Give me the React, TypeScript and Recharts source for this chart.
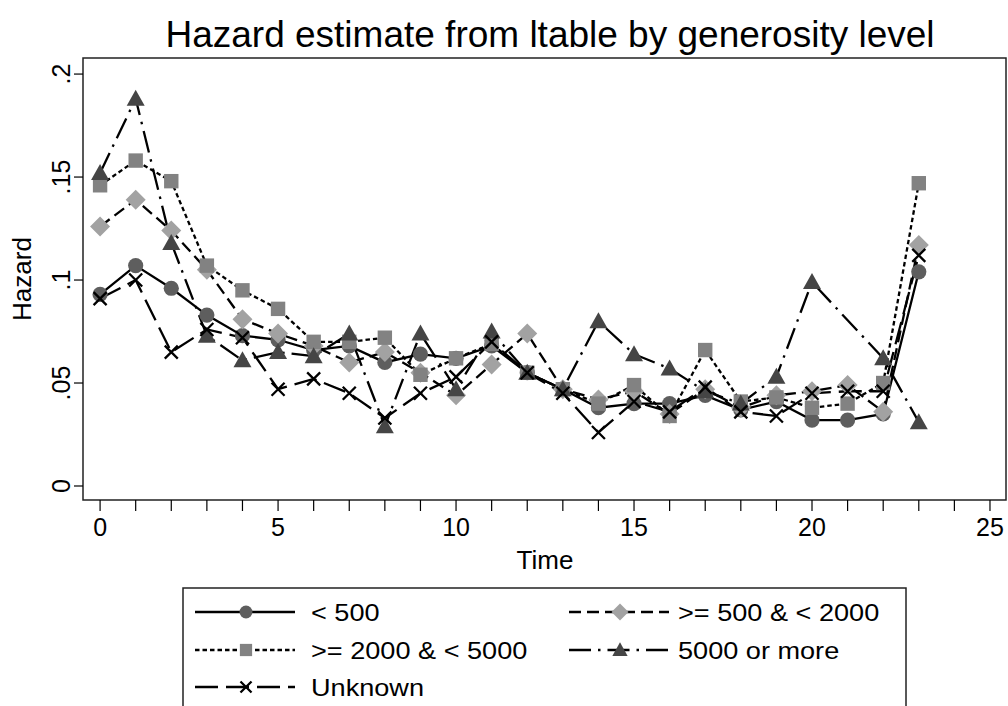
import React from 'react';
import { LineChart, Line, XAxis, YAxis, ReferenceArea } from 'recharts';

const times = [0, 1, 2, 3, 4, 5, 6, 7, 8, 9, 10, 11, 12, 13, 14, 15, 16, 17, 18, 19, 20, 21, 22, 23];
const lt500 = [0.093, 0.107, 0.096, 0.083, 0.073, 0.071, 0.066, 0.068, 0.060, 0.064, 0.062, 0.068, 0.055, 0.047, 0.038, 0.040, 0.040, 0.044, 0.037, 0.041, 0.032, 0.032, 0.035, 0.104];
const from500to2000 = [0.126, 0.139, 0.124, 0.105, 0.081, 0.074, 0.068, 0.060, 0.065, 0.055, 0.044, 0.059, 0.074, 0.047, 0.042, 0.046, 0.035, 0.047, 0.038, 0.044, 0.046, 0.049, 0.036, 0.117];
const from2000to5000 = [0.146, 0.158, 0.148, 0.107, 0.095, 0.086, 0.070, 0.070, 0.072, 0.054, 0.062, 0.069, 0.055, 0.047, 0.040, 0.049, 0.034, 0.066, 0.041, 0.043, 0.038, 0.040, 0.050, 0.147];
const over5000 = [0.152, 0.188, 0.118, 0.073, 0.061, 0.065, 0.063, 0.074, 0.029, 0.074, 0.047, 0.075, 0.055, 0.047, 0.080, 0.064, 0.057, 0.046, 0.040, 0.053, 0.099, null, 0.062, 0.031];
const unknown = [0.091, 0.100, 0.065, 0.076, 0.072, 0.047, 0.052, 0.045, 0.033, 0.045, 0.053, 0.070, 0.055, 0.045, 0.026, 0.041, 0.036, 0.048, 0.036, 0.034, 0.045, 0.046, 0.046, 0.112];

const xTicks = [0, 1, 2, 3, 4, 5, 6, 7, 8, 9, 10, 11, 12, 13, 14, 15, 16, 17, 18, 19, 20, 21, 22, 23, 24, 25];
const xLabeled = [0, 5, 10, 15, 20, 25];
const yTicks = [0, 0.05, 0.1, 0.15, 0.2];
const yTickLabels = ['0', '.05', '.1', '.15', '.2'];
const seriesNames = ['< 500', '>= 500 & < 2000', '>= 2000 & < 5000', '5000 or more', 'Unknown'];

const FONT = '"Liberation Sans", Arial, Helvetica, sans-serif';

type Shape = 'circle' | 'diamond' | 'square' | 'triangle' | 'x';

const seriesStyle: { key: string; shape: Shape; fill: string; dash?: string }[] = [
  { key: 'a', shape: 'circle', fill: '#5e5e5e' },
  { key: 'b', shape: 'diamond', fill: '#a2a2a2', dash: '12 6' },
  { key: 'c', shape: 'square', fill: '#828282', dash: '4.5 3' },
  { key: 'd', shape: 'triangle', fill: '#454545', dash: '22 7 2.5 7' },
  { key: 'e', shape: 'x', fill: '#000000', dash: '23 8' },
];

const data = times.map((t, i) => ({
  t,
  a: lt500[i],
  b: from500to2000[i],
  c: from2000to5000[i],
  d: over5000[i],
  e: unknown[i],
}));

function Marker({ shape, cx, cy, fill, scale = 1 }: { shape: Shape; cx: number; cy: number; fill: string; scale?: number }) {
  const s = scale;
  switch (shape) {
    case 'circle':
      return <circle cx={cx} cy={cy} r={7.6 * s} fill={fill} />;
    case 'square':
      return <rect x={cx - 7.2 * s} y={cy - 7.2 * s} width={14.4 * s} height={14.4 * s} fill={fill} />;
    case 'diamond': {
      const h = 10 * s;
      return <polygon points={`${cx},${cy - h} ${cx + h},${cy} ${cx},${cy + h} ${cx - h},${cy}`} fill={fill} />;
    }
    case 'triangle': {
      const w = 9 * s;
      return <polygon points={`${cx},${cy - 9 * s} ${cx + w},${cy + 7 * s} ${cx - w},${cy + 7 * s}`} fill={fill} />;
    }
    case 'x': {
      const h = 6.5 * s;
      return (
        <path
          d={`M${cx - h},${cy - h}L${cx + h},${cy + h}M${cx - h},${cy + h}L${cx + h},${cy - h}`}
          stroke="#000"
          strokeWidth={2.3}
          fill="none"
        />
      );
    }
  }
  return null;
}

const makeDot = (shape: Shape, fill: string) => (props: any) => {
  const { cx, cy, index, value } = props;
  if (value === null || value === undefined || cx == null || cy == null) return <g key={`n-${index}`} />;
  return (
    <g key={`${shape}-${index}`}>
      <Marker shape={shape} cx={cx} cy={cy} fill={fill} />
    </g>
  );
};

const XTick = (props: any) => {
  const { x, y, payload } = props;
  if (!xLabeled.includes(payload.value)) return <g />;
  return (
    <text x={x} y={y + 23} textAnchor="middle" fontFamily={FONT} fontSize={25} fill="#000">
      {payload.value}
    </text>
  );
};

const YTick = (props: any) => {
  const { x, y, payload } = props;
  const idx = yTicks.indexOf(payload.value);
  const label = idx >= 0 ? yTickLabels[idx] : '';
  return (
    <text
      x={x - 2}
      y={y}
      transform={`rotate(-90, ${x - 2}, ${y})`}
      textAnchor="middle"
      fontFamily={FONT}
      fontSize={25}
      fill="#000"
    >
      {label}
    </text>
  );
};

function LegendOverlay() {
  const rows = [
    { i: 0, x: 195, tx: 311, y: 612 },
    { i: 1, x: 569, tx: 678, y: 612 },
    { i: 2, x: 195, tx: 311, y: 650 },
    { i: 3, x: 569, tx: 678, y: 650 },
    { i: 4, x: 195, tx: 311, y: 687 },
  ];
  const symLen = 100;
  return (
    <svg width={1008} height={706} style={{ position: 'absolute', left: 0, top: 0, pointerEvents: 'none' }}>
      <text x={550} y={47} textAnchor="middle" fontFamily={FONT} fontSize={37} fill="#000">
        Hazard estimate from ltable by generosity level
      </text>
      <text
        x={31}
        y={279}
        transform="rotate(-90, 31, 279)"
        textAnchor="middle"
        fontFamily={FONT}
        fontSize={26}
        fill="#000"
      >
        Hazard
      </text>
      <text x={545} y={569} textAnchor="middle" fontFamily={FONT} fontSize={26} fill="#000">
        Time
      </text>
      <rect x={183} y={588} width={723} height={140} fill="none" stroke="#222" strokeWidth={1.5} />
      {rows.map((r) => {
        const st = seriesStyle[r.i];
        return (
          <g key={r.i}>
            <line
              x1={r.x}
              x2={r.x + symLen}
              y1={r.y}
              y2={r.y}
              stroke="#000"
              strokeWidth={2.3}
              strokeDasharray={st.dash}
            />
            <Marker shape={st.shape} cx={r.x + 51} cy={r.y} fill={st.fill} scale={0.85} />
            <text
              transform={`translate(${r.tx}, ${r.y + 8.5}) scale(1.13, 1)`}
              fontFamily={FONT}
              fontSize={24}
              fill="#000"
            >
              {seriesNames[r.i]}
            </text>
          </g>
        );
      })}
    </svg>
  );
}

export default function App() {
  return (
    <div style={{ position: 'absolute', left: 0, top: 0, width: 1008, height: 706, background: '#fff' }}>
      <LineChart width={1008} height={706} data={data} margin={{ top: 58, right: 2, left: 0, bottom: 126 }}>
        <XAxis
          dataKey="t"
          type="number"
          domain={[-0.48, 25.45]}
          ticks={xTicks}
          interval={0}
          allowDataOverflow
          height={80}
          tickSize={11}
          tickLine={{ stroke: '#000', strokeWidth: 1.2 }}
          axisLine={false}
          tick={<XTick />}
        />
        <YAxis
          type="number"
          domain={[-0.0068, 0.2078]}
          ticks={yTicks}
          interval={0}
          allowDataOverflow
          width={83}
          tickSize={9}
          tickLine={{ stroke: '#000', strokeWidth: 1.2 }}
          axisLine={false}
          tick={<YTick />}
        />
        <ReferenceArea
          x1={-0.48}
          x2={25.45}
          y1={-0.0068}
          y2={0.2078}
          fill="none"
          stroke="#222"
          strokeWidth={1.5}
          ifOverflow="visible"
        />
        {seriesStyle.map((st) => (
          <Line
            key={st.key}
            dataKey={st.key}
            type="linear"
            stroke="#000"
            strokeWidth={2.3}
            strokeDasharray={st.dash}
            connectNulls
            isAnimationActive={false}
            dot={makeDot(st.shape, st.fill)}
            activeDot={false}
          />
        ))}
      </LineChart>
      <LegendOverlay />
    </div>
  );
}
